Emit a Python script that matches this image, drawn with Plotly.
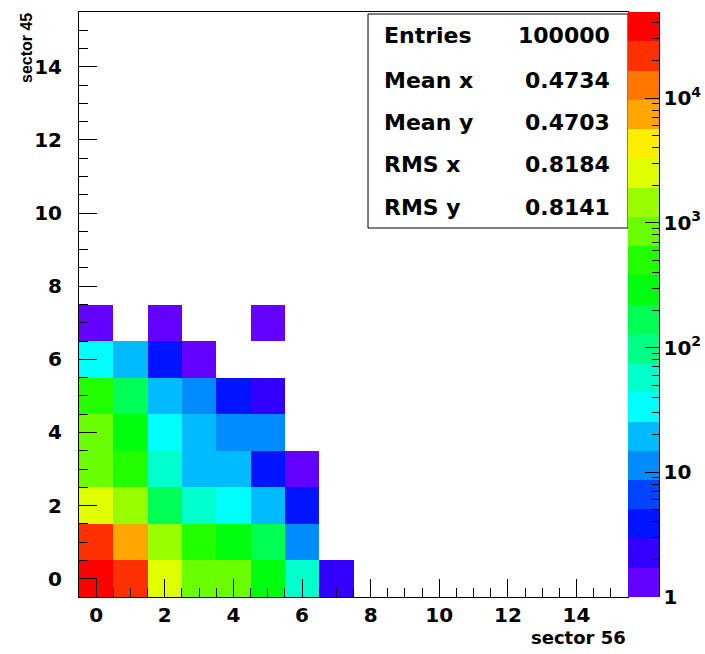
import math
import plotly.graph_objects as go

# ---------------- data ----------------
x_bins = list(range(16))          # sector 56 bins
y_bins = list(range(16))          # sector 45 bins
# bin contents, one list per y bin (x = 0..7); 0 = empty bin
row_y0 = [40157, 20000, 2100, 700, 700, 290, 58, 2]
row_y1 = [20000, 6500, 1500, 500, 290, 170, 11, 0]
row_y2 = [2100, 1500, 170, 58, 34, 20, 4, 0]
row_y3 = [700, 500, 58, 20, 20, 4, 1, 0]
row_y4 = [700, 290, 34, 20, 11, 11, 0, 0]
row_y5 = [500, 170, 20, 11, 4, 2, 0, 0]
row_y6 = [34, 20, 4, 1, 0, 0, 0, 0]
row_y7 = [1, 0, 1, 0, 0, 1, 0, 0]
rows = [row_y0, row_y1, row_y2, row_y3, row_y4, row_y5, row_y6, row_y7]

z_min = 1
z_max = 49000
major_vals = [1, 10, 100, 1000, 10000]
major_text = ["1", "10", "10<sup>2</sup>", "10<sup>3</sup>", "10<sup>4</sup>"]
x_tick_vals = [0, 2, 4, 6, 8, 10, 12, 14]
y_tick_vals = [0, 2, 4, 6, 8, 10, 12, 14]

stat_names = ["Entries", "Mean x", "Mean y", "RMS x", "RMS y"]
stat_values = ["100000", "0.4734", "0.4703", "0.8184", "0.8141"]

x_title = "sector 56"
y_title = "sector 45"

palette = ["#6300FF", "#3300FF", "#0014FF", "#0044FF", "#008BFF",
           "#00BBFF", "#00FFFC", "#00FFCC", "#00FF85", "#00FF55",
           "#00FF0E", "#22FF00", "#69FF00", "#99FF00", "#E0FF00",
           "#FFEE00", "#FFA700", "#FF7700", "#FF3000", "#FF0000"]

# ---------------- build ----------------
z = [[None for _ in x_bins] for _ in y_bins]
for iy, row in enumerate(rows):
    for ix, v in enumerate(row):
        if v > 0:
            z[iy][ix] = math.log10(v)

lz_min = math.log10(z_min)
lz_max = math.log10(z_max)
n = len(palette)
cscale = []
for k, c in enumerate(palette):
    cscale.append([k / n, c])
    cscale.append([(k + 1) / n, c])

minor_vals = []
for dec in [1, 10, 100, 1000, 10000]:
    for m in range(1, 10):
        v = dec * m
        if v <= z_max and v not in major_vals:
            minor_vals.append(math.log10(v))

L, R, T, B = 79, 77, 12, 57
W, H = 705, 654
PW, PH = W - L - R, H - T - B


def px(p):
    return (p - L) / PW


def py(p):
    return (H - B - p) / PH


FONT = "DejaVu Sans"
tickfont = dict(family=FONT, size=20, color="black", weight="bold")

fig = go.Figure()
fig.add_trace(go.Heatmap(
    x=x_bins, y=y_bins, z=z, zmin=lz_min, zmax=lz_max,
    colorscale=cscale, hoverongaps=False,
    colorbar=dict(x=1.0, xanchor="left", xpad=0, y=0.5, yanchor="middle",
                  ypad=0, len=1, lenmode="fraction", thickness=31,
                  outlinewidth=0, tickmode="array", tickvals=minor_vals,
                  ticks="inside", ticklen=7, tickcolor="black",
                  showticklabels=False),
))
# transparent overlay colorbar carrying major ticks and labels
fig.add_trace(go.Heatmap(
    x=[0], y=[0], z=[[0]], zmin=lz_min, zmax=lz_max,
    colorscale=[[0, "rgba(0,0,0,0)"], [1, "rgba(0,0,0,0)"]],
    hoverinfo="skip",
    colorbar=dict(x=1.0, xanchor="left", xpad=0, y=0.5, yanchor="middle",
                  ypad=0, len=1, lenmode="fraction", thickness=31,
                  outlinewidth=0, tickmode="array",
                  tickvals=[math.log10(v) for v in major_vals],
                  ticktext=major_text, ticks="inside", ticklen=14,
                  tickcolor="black", tickfont=tickfont),
))

axis_common = dict(range=[-0.5, 15.5], tickmode="array", ticks="inside",
                   ticklen=18, tickcolor="black", tickwidth=1,
                   showline=True, linecolor="black", linewidth=1, mirror=True,
                   showgrid=False, zeroline=False, tickfont=tickfont,
                   automargin=False,
                   minor=dict(tick0=0, dtick=0.5, ticks="inside", ticklen=9,
                              tickcolor="black", showgrid=False))
fig.update_xaxes(**axis_common, tickvals=x_tick_vals, ticklabelstandoff=0)
fig.update_yaxes(**axis_common, tickvals=y_tick_vals, ticklabelstandoff=12)

shapes = [
    dict(type="rect", xref="paper", yref="paper",
         x0=px(368), x1=px(628), y0=py(228), y1=py(14),
         line=dict(color="black", width=1), fillcolor="white", layer="above"),
    dict(type="line", xref="paper", yref="paper",
         x0=px(659.5), x1=px(659.5), y0=0, y1=1,
         line=dict(color="black", width=1)),
]

annotations = []
stat_y = [36, 80, 122, 165, 207]
for name, val, yy in zip(stat_names, stat_values, stat_y):
    annotations.append(dict(xref="paper", yref="paper", x=px(382), y=py(yy),
                            xanchor="left", yanchor="middle", text=name,
                            showarrow=False,
                            font=dict(family=FONT, size=22, color="black",
                                      weight="bold")))
    annotations.append(dict(xref="paper", yref="paper", x=px(612), y=py(yy),
                            xanchor="right", yanchor="middle", text=val,
                            showarrow=False,
                            font=dict(family=FONT, size=22, color="black",
                                      weight="bold")))
annotations.append(dict(xref="paper", yref="paper", x=px(628), y=py(637),
                        xanchor="right", yanchor="middle", text=x_title,
                        showarrow=False,
                        font=dict(family=FONT, size=18, color="black",
                                  weight="bold")))
annotations.append(dict(xref="paper", yref="paper", x=px(26), y=py(11),
                        xanchor="center", yanchor="top", text=y_title,
                        textangle=-90, showarrow=False,
                        font=dict(family="Liberation Sans", size=16,
                                  color="black", weight="bold")))

fig.update_layout(width=W, height=H,
                  margin=dict(l=L, r=R, t=T, b=B, autoexpand=False),
                  paper_bgcolor="white", plot_bgcolor="white",
                  shapes=shapes, annotations=annotations, showlegend=False)

fig.write_html("out.html", config={"displayModeBar": False},
               post_script="document.body.style.margin='0px';"
                           "document.body.style.padding='0px';")
